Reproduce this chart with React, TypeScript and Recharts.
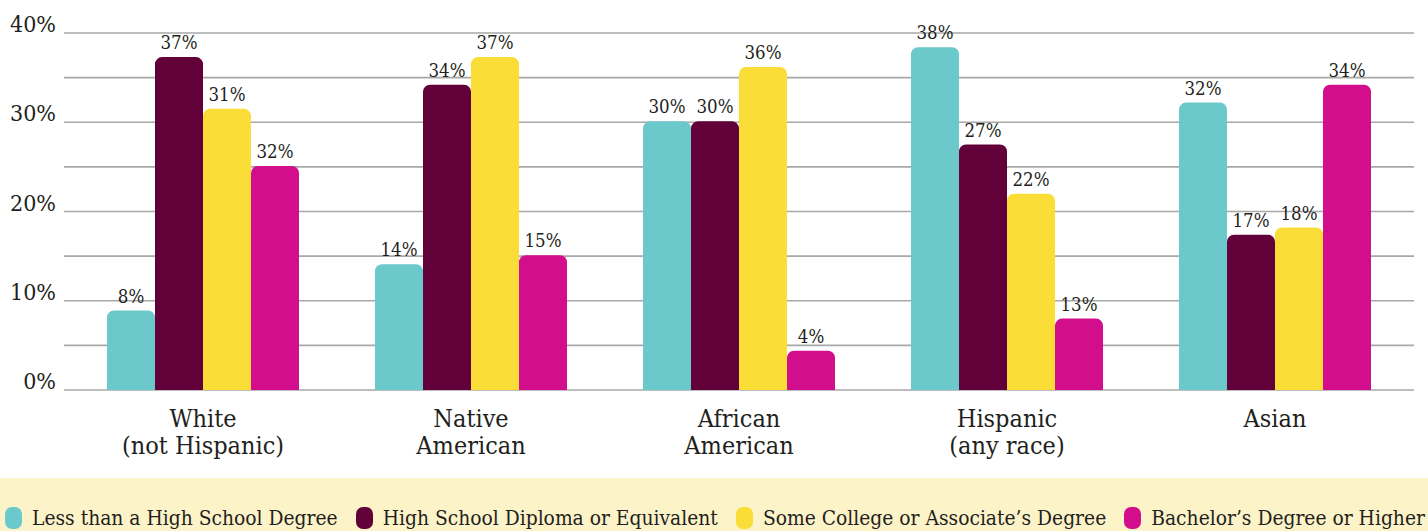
import { BarChart, Bar, XAxis, YAxis, CartesianGrid, LabelList, Legend } from 'recharts';

const categories = ['White\n(not Hispanic)', 'Native\nAmerican', 'African\nAmerican', 'Hispanic\n(any race)', 'Asian'];

// bar heights as drawn
const lessThanHS = [8.9, 14.1, 30.1, 38.4, 32.2];
const hsDiploma = [37.3, 34.2, 30.1, 27.5, 17.4];
const someCollege = [31.5, 37.3, 36.2, 22.0, 18.2];
const bachelors = [25.1, 15.1, 4.4, 8.0, 34.2];

// printed labels
const lessThanHSLabels = ['8%', '14%', '30%', '38%', '32%'];
const hsDiplomaLabels = ['37%', '34%', '30%', '27%', '17%'];
const someCollegeLabels = ['31%', '37%', '36%', '22%', '18%'];
const bachelorsLabels = ['32%', '15%', '4%', '13%', '34%'];

const yTicks = [0, 5, 10, 15, 20, 25, 30, 35, 40];

const seriesList = [
  { key: 'lessThanHS', name: 'Less than a High School Degree', color: '#6CC9CB', labels: lessThanHSLabels },
  { key: 'hsDiploma', name: 'High School Diploma or Equivalent', color: '#62003A', labels: hsDiplomaLabels },
  { key: 'someCollege', name: 'Some College or Associate’s Degree', color: '#FADD37', labels: someCollegeLabels },
  { key: 'bachelors', name: 'Bachelor’s Degree or Higher', color: '#D20E8C', labels: bachelorsLabels },
];

const data = categories.map((c, i) => ({
  name: c,
  lessThanHS: lessThanHS[i],
  hsDiploma: hsDiploma[i],
  someCollege: someCollege[i],
  bachelors: bachelors[i],
}));

const FONT = '"DejaVu Serif Condensed", "DejaVu Serif", serif';
const TEXT = '#231f20';

const YTick = ({ x, y, payload }: any) => {
  if (payload.value % 10 !== 0) return null;
  return (
    <text x={x} y={y - 9} textAnchor="end" dominantBaseline="central" fontSize={23} fill={TEXT} fontFamily={FONT}>
      {`${payload.value}%`}
    </text>
  );
};

const XTick = ({ x, y, payload }: any) => {
  const lines = String(payload.value).split('\n');
  return (
    <text x={x} y={y} textAnchor="middle" fontSize={25} fill={TEXT} fontFamily={FONT}>
      {lines.map((l, i) => (
        <tspan key={i} x={x} dy={i === 0 ? 29 : 27}>
          {l}
        </tspan>
      ))}
    </text>
  );
};

const LegendContent = () => (
  <div
    style={{
      height: 53,
      width: 1428,
      background: '#FDF3C8',
      display: 'flex',
      alignItems: 'flex-end',
      paddingBottom: 1,
      boxSizing: 'border-box',
      fontFamily: FONT,
      fontSize: 20.8,
      color: TEXT,
    }}
  >
    {seriesList.map((s, i) => (
      <div key={s.key} style={{ display: 'flex', alignItems: 'center', marginLeft: i === 0 ? 5 : 18 }}>
        <span style={{ width: 17, height: 22, borderRadius: 7, background: s.color, display: 'inline-block', marginRight: 10 }} />
        <span style={{ whiteSpace: 'nowrap' }}>{s.name}</span>
      </div>
    ))}
  </div>
);

export default function App() {
  return (
    <div style={{ position: 'absolute', left: 0, top: 0, width: 1428, height: 531, background: '#fff' }}>
      <BarChart
        width={1428}
        height={531}
        data={data}
        margin={{ top: 33, right: 14, left: 0, bottom: 0 }}
        barCategoryGap={38}
        barGap={0}
      >
        <CartesianGrid vertical={false} stroke="#a8a8a8" strokeWidth={1.6} />
        <XAxis
          dataKey="name"
          axisLine={false}
          tickLine={false}
          tick={<XTick />}
          height={88}
          interval={0}
          padding={{ left: 5, right: 5 }}
        />
        <YAxis
          width={64}
          domain={[0, 40]}
          ticks={yTicks}
          axisLine={false}
          tickLine={false}
          tick={<YTick />}
          interval={0}
        />
        <Legend verticalAlign="bottom" align="left" content={<LegendContent />} wrapperStyle={{ left: 0, bottom: 0, width: 1428, height: 53 }} />
        {seriesList.map((s) => (
          <Bar key={s.key} dataKey={s.key} name={s.name} fill={s.color} radius={[7, 7, 0, 0]} isAnimationActive={false}>
            <LabelList
              dataKey={s.key}
              position="top"
              content={(props: any) => {
                const { x, y, width, index } = props;
                return (
                  <text x={x + width / 2} y={y - 8} textAnchor="middle" fontSize={18.5} fill={TEXT} fontFamily={FONT}>
                    {s.labels[index]}
                  </text>
                );
              }}
            />
          </Bar>
        ))}
      </BarChart>
    </div>
  );
}
